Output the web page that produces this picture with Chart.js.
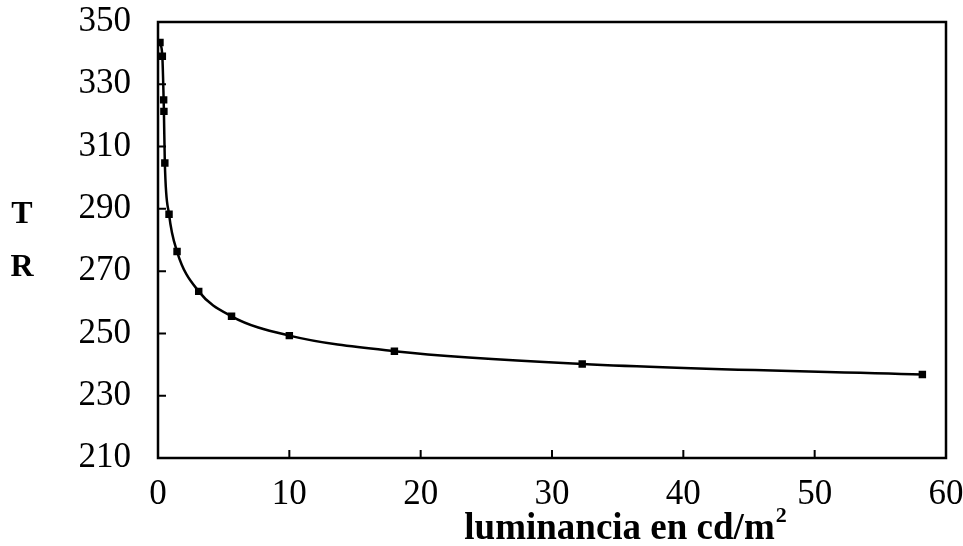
<!DOCTYPE html>
<html lang="es">
<head>
  <meta charset="UTF-8" />
  <title>TR - luminancia</title>
  <script src="https://cdn.jsdelivr.net/npm/chart.js"></script>
  <style>
    body {
      margin: 0;
      padding: 0;
      background-color: #fff;
    }
    .chart-box {
      width: 963px;
      height: 546px;
    }
  </style>
</head>
<body>
  <div class="chart-box">
    <canvas id="trChart"></canvas>
  </div>

  <script>
    // luminancia (cd/m2) y tiempo de reaccion
    const luminance = [0.15, 0.33, 0.43, 0.45, 0.52, 0.84, 1.45, 3.1, 5.6, 10.0, 18.0, 32.3, 58.2];
    const reaction = [343.4, 339.0, 325.0, 321.3, 304.7, 288.3, 276.3, 263.5, 255.5, 249.3, 244.3, 240.2, 236.8];
    const xTickValues = [0, 10, 20, 30, 40, 50, 60];
    const yTickValues = [210, 230, 250, 270, 290, 310, 330, 350];

    const serif = "'Liberation Serif', 'DejaVu Serif', serif";

    // marco, marcas de escala hacia dentro, titulos de los ejes
    const framePlugin = {
      id: 'frame',
      afterDraw(chart) {
        const { ctx, chartArea: a, scales } = chart;
        ctx.save();
        ctx.strokeStyle = '#000';
        ctx.lineWidth = 2.5;
        ctx.strokeRect(a.left, a.top, a.right - a.left, a.bottom - a.top);

        ctx.lineWidth = 2;
        ctx.beginPath();
        yTickValues.forEach(v => {
          const y = scales.y.getPixelForValue(v);
          ctx.moveTo(a.left, y);
          ctx.lineTo(a.left + 8, y);
        });
        xTickValues.forEach(v => {
          const x = scales.x.getPixelForValue(v);
          ctx.moveTo(x, a.bottom);
          ctx.lineTo(x, a.bottom - 8);
        });
        ctx.stroke();

        ctx.fillStyle = '#000';
        ctx.font = 'bold 32px ' + serif;
        ctx.textAlign = 'center';
        ctx.textBaseline = 'middle';
        ctx.fillText('T', 22, 215);
        ctx.fillText('R', 22, 268);

        // titulo del eje x con superindice
        const main = 'luminancia en cd/m';
        ctx.font = 'bold 37px ' + serif;
        const w1 = ctx.measureText(main).width;
        ctx.font = 'bold 22px ' + serif;
        const w2 = ctx.measureText('2').width;
        const startX = 625 - (w1 + w2) / 2;
        ctx.textAlign = 'left';
        ctx.textBaseline = 'alphabetic';
        ctx.font = 'bold 37px ' + serif;
        ctx.fillText(main, startX, 539);
        ctx.font = 'bold 22px ' + serif;
        ctx.fillText('2', startX + w1 + 1, 522);
        ctx.restore();
      }
    };

    const ctxTR = document.getElementById('trChart').getContext('2d');
    const trChart = new Chart(ctxTR, {
      type: 'line',
      data: {
        datasets: [{
          label: 'TR',
          data: luminance.map((x, i) => ({ x: x, y: reaction[i] })),
          borderColor: '#000',
          backgroundColor: '#000',
          borderWidth: 2.5,
          pointStyle: 'rect',
          pointRadius: 3.5,
          cubicInterpolationMode: 'monotone',
          fill: false
        }]
      },
      options: {
        responsive: true,
        maintainAspectRatio: false,
        animation: false,
        layout: {
          padding: { left: 0, right: 17, top: 22, bottom: 0 }
        },
        scales: {
          x: {
            type: 'linear',
            min: 0,
            max: 60,
            afterFit: s => {
              s.height = 88;
              s.paddingLeft = 0;
              s.paddingRight = 0;
            },
            afterBuildTicks: s => { s.ticks = xTickValues.map(v => ({ value: v })); },
            grid: { display: false },
            border: { display: false },
            ticks: {
              color: '#000',
              padding: 8,
              font: { family: serif, size: 35 }
            }
          },
          y: {
            min: 210,
            max: 350,
            afterFit: s => {
              s.width = 158;
              s.paddingTop = 0;
              s.paddingBottom = 0;
            },
            afterBuildTicks: s => { s.ticks = yTickValues.map(v => ({ value: v })); },
            grid: { display: false },
            border: { display: false },
            ticks: {
              color: '#000',
              padding: 19,
              font: { family: serif, size: 35 }
            }
          }
        },
        plugins: {
          legend: { display: false },
          tooltip: { enabled: false }
        }
      },
      plugins: [framePlugin]
    });
  </script>
</body>
</html>
